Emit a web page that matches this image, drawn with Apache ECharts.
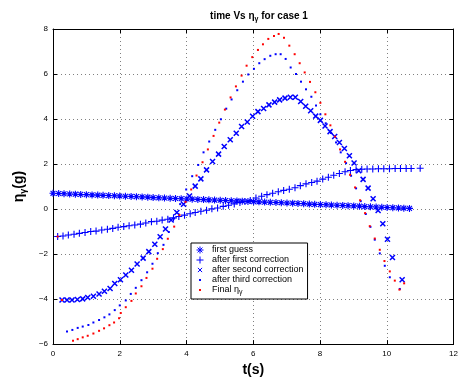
<!DOCTYPE html>
<html><head><meta charset="utf-8">
<script src="https://cdn.jsdelivr.net/npm/echarts@6/dist/echarts.min.js"></script>
<style>html,body{margin:0;padding:0;background:#fff}#c{width:461px;height:382px}</style>
</head><body><div id="c"></div>
<script>
const xTicks = [0, 2, 4, 6, 8, 10, 12];
const yTicks = [-6, -4, -2, 0, 2, 4, 6, 8];
const seriesNames = ['first guess', 'after first correction', 'after second correction', 'after third correction', 'Final ηγ'];

const firstGuess = [[0.00,0.70],[0.17,0.69],[0.33,0.68],[0.50,0.67],[0.67,0.66],[0.83,0.65],[1.00,0.64],[1.17,0.63],[1.34,0.62],[1.50,0.61],[1.67,0.60],[1.84,0.59],[2.00,0.58],[2.17,0.57],[2.34,0.56],[2.50,0.55],[2.67,0.54],[2.84,0.53],[3.00,0.51],[3.17,0.50],[3.34,0.49],[3.51,0.48],[3.67,0.47],[3.84,0.46],[4.01,0.45],[4.17,0.44],[4.34,0.43],[4.51,0.42],[4.67,0.41],[4.84,0.40],[5.01,0.39],[5.17,0.38],[5.34,0.37],[5.51,0.36],[5.67,0.35],[5.84,0.34],[6.01,0.33],[6.17,0.32],[6.34,0.31],[6.51,0.30],[6.68,0.29],[6.84,0.28],[7.01,0.27],[7.18,0.26],[7.34,0.25],[7.51,0.24],[7.68,0.22],[7.84,0.21],[8.01,0.20],[8.18,0.19],[8.34,0.18],[8.51,0.17],[8.68,0.16],[8.84,0.15],[9.01,0.14],[9.18,0.13],[9.34,0.11],[9.51,0.10],[9.68,0.09],[9.85,0.08],[10.01,0.07],[10.18,0.06],[10.35,0.05],[10.51,0.04],[10.68,0.03]];

const firstCorrection = [[0.14,-1.22],[0.30,-1.20],[0.46,-1.15],[0.63,-1.12],[0.79,-1.08],[0.96,-1.04],[1.13,-1.00],[1.29,-0.98],[1.46,-0.93],[1.63,-0.90],[1.79,-0.86],[1.95,-0.81],[2.12,-0.78],[2.28,-0.74],[2.45,-0.71],[2.62,-0.67],[2.78,-0.62],[2.95,-0.56],[3.11,-0.54],[3.27,-0.49],[3.44,-0.45],[3.61,-0.39],[3.77,-0.33],[3.94,-0.27],[4.11,-0.21],[4.26,-0.15],[4.43,-0.10],[4.60,-0.05],[4.76,0.01],[4.93,0.05],[5.10,0.12],[5.26,0.17],[5.43,0.23],[5.60,0.29],[5.75,0.34],[5.91,0.38],[6.08,0.49],[6.25,0.57],[6.41,0.64],[6.58,0.70],[6.75,0.77],[6.91,0.83],[7.08,0.88],[7.25,0.95],[7.41,1.04],[7.58,1.12],[7.75,1.18],[7.91,1.24],[8.08,1.33],[8.25,1.41],[8.41,1.50],[8.58,1.58],[8.75,1.66],[8.91,1.71],[9.08,1.75],[9.25,1.77],[9.41,1.78],[9.58,1.78],[9.75,1.79],[9.91,1.79],[10.08,1.79],[10.25,1.80],[10.41,1.80],[10.58,1.80],[10.73,1.80],[11.00,1.81]];

const secondCorrection = [[0.27,-4.04],[0.42,-4.04],[0.57,-4.04],[0.73,-4.02],[0.89,-3.99],[1.04,-3.93],[1.21,-3.87],[1.38,-3.77],[1.54,-3.65],[1.71,-3.53],[1.85,-3.31],[2.02,-3.14],[2.18,-2.93],[2.35,-2.72],[2.52,-2.44],[2.70,-2.18],[2.87,-1.89],[3.05,-1.56],[3.21,-1.23],[3.37,-0.89],[3.54,-0.49],[3.71,-0.15],[3.91,0.21],[4.09,0.58],[4.26,1.02],[4.43,1.34],[4.60,1.74],[4.78,2.11],[4.96,2.44],[5.13,2.78],[5.31,3.08],[5.49,3.37],[5.65,3.67],[5.82,3.87],[5.98,4.12],[6.14,4.33],[6.31,4.47],[6.47,4.63],[6.64,4.75],[6.79,4.85],[6.95,4.93],[7.11,4.97],[7.26,4.97],[7.42,4.78],[7.57,4.57],[7.72,4.37],[7.87,4.13],[8.01,3.94],[8.15,3.69],[8.30,3.44],[8.44,3.22],[8.58,2.96],[8.73,2.69],[8.88,2.37],[9.02,2.05],[9.16,1.70],[9.29,1.32],[9.44,0.93],[9.59,0.46],[9.74,-0.06],[9.88,-0.65],[10.02,-1.34],[10.17,-2.15],[10.46,-3.14]];

const thirdCorrection = [[0.42,-5.44],[0.58,-5.37],[0.74,-5.28],[0.89,-5.22],[1.06,-5.15],[1.21,-5.04],[1.38,-4.93],[1.54,-4.81],[1.69,-4.68],[1.85,-4.49],[2.00,-4.28],[2.18,-4.06],[2.33,-3.77],[2.48,-3.50],[2.65,-3.16],[2.82,-2.81],[2.98,-2.43],[3.14,-1.96],[3.31,-1.59],[3.47,-1.02],[3.63,-0.42],[3.81,0.22],[3.99,0.87],[4.17,1.46],[4.35,1.96],[4.51,2.52],[4.68,3.00],[4.86,3.52],[5.03,3.99],[5.19,4.46],[5.35,4.87],[5.52,5.28],[5.69,5.66],[5.85,5.98],[6.02,6.23],[6.18,6.48],[6.34,6.66],[6.51,6.81],[6.67,6.88],[6.82,6.88],[6.97,6.67],[7.12,6.29],[7.28,6.00],[7.43,5.66],[7.58,5.32],[7.74,4.99],[7.88,4.60],[8.01,4.21],[8.17,3.81],[8.33,3.38],[8.48,2.96],[8.62,2.52],[8.78,2.04],[8.93,1.48],[9.08,0.92],[9.22,0.35],[9.37,-0.22],[9.51,-0.79],[9.64,-1.36],[9.79,-1.97],[9.94,-2.52],[10.09,-3.03],[10.39,-3.55]];

const finalEta = [[0.14,-1.22],[0.27,-4.04],[0.60,-5.85],[0.74,-5.78],[0.89,-5.70],[1.04,-5.63],[1.21,-5.53],[1.38,-5.41],[1.53,-5.30],[1.69,-5.16],[1.83,-5.04],[1.98,-4.85],[2.03,-4.62],[2.18,-4.36],[2.35,-4.08],[2.48,-3.75],[2.65,-3.43],[2.80,-3.06],[2.98,-2.65],[3.12,-2.21],[3.29,-1.78],[3.44,-1.32],[3.63,-0.78],[3.79,-0.27],[3.97,0.32],[4.14,0.87],[4.30,1.49],[4.48,2.08],[4.64,2.65],[4.81,3.25],[4.98,3.84],[5.15,4.42],[5.32,4.96],[5.48,5.45],[5.65,5.93],[5.80,6.37],[5.97,6.75],[6.14,7.07],[6.29,7.32],[6.45,7.56],[6.62,7.69],[6.76,7.78],[6.92,7.61],[7.08,7.26],[7.24,6.88],[7.39,6.48],[7.54,6.07],[7.70,5.65],[7.86,5.19],[8.01,4.72],[8.16,4.21],[8.31,3.72],[8.45,3.22],[8.60,2.65],[8.75,2.10],[8.90,1.52],[9.05,0.96],[9.20,0.39],[9.35,-0.18],[9.49,-0.76],[9.64,-1.31],[9.79,-1.81],[9.93,-2.31],[10.09,-2.77],[10.24,-3.18],[10.38,-3.58],[10.52,-3.30]];

const FONT = 'Liberation Sans, Arial, Helvetica, sans-serif';
const BLUE = '#0000ff', RED = '#ff0000';
const STAR = 'path://M0 5L10 5M5 0L5 10M1.5 1.5L8.5 8.5M8.5 1.5L1.5 8.5';
const PLUS = 'path://M0 5L10 5M5 0L5 10';
const CROSS = 'path://M0 0L10 10M10 0L0 10';
const LEG_CROSS = 'path://M0 0M10 10M2 2L8 8M8 2L2 8';
const LEG_DOT = 'path://M0 0M10 10M3.6 3.6L6.4 3.6L6.4 6.4L3.6 6.4Z';

const xMin = xTicks[0], xMax = xTicks[xTicks.length-1], xInt = xTicks[1]-xTicks[0];
const yMin = yTicks[0], yMax = yTicks[yTicks.length-1], yInt = yTicks[1]-yTicks[0];
const fmt = v => String(v).replace('-', '\u2212');

function xAx(pos, main) {
  return {
    type: 'value', position: pos, min: xMin, max: xMax, interval: xInt,
    axisLine: { show: true, onZero: false, lineStyle: { color: '#000', width: 1 } },
    axisTick: { show: true, inside: true, length: 4, lineStyle: { color: '#000', width: 1 } },
    axisLabel: { show: main, color: '#000', fontSize: 8, fontFamily: FONT, margin: 6, formatter: fmt },
    splitLine: { show: main, lineStyle: { color: '#808080', width: 1, type: [1, 3] } },
    name: main ? 't(s)' : '', nameLocation: 'middle', nameGap: 17,
    nameTextStyle: { fontSize: 14, fontWeight: 'bold', color: '#000', fontFamily: FONT }
  };
}
function yAx(pos, main) {
  return {
    type: 'value', position: pos, min: yMin, max: yMax, interval: yInt,
    axisLine: { show: true, onZero: false, lineStyle: { color: '#000', width: 1 } },
    axisTick: { show: true, inside: true, length: 4, lineStyle: { color: '#000', width: 1 } },
    axisLabel: { show: main, color: '#000', fontSize: 8, fontFamily: FONT, margin: 5, formatter: fmt },
    splitLine: { show: main, lineStyle: { color: '#808080', width: 1, type: [1, 3] } },
    name: main ? '{n|η}{s|γ}{n|(g)}' : '', nameLocation: 'middle', nameGap: 15, nameRotate: 90,
    nameTextStyle: { color: '#000', fontFamily: FONT,
      rich: { n: { fontSize: 14, fontWeight: 'bold', color: '#000', fontFamily: FONT },
              s: { fontSize: 9, fontWeight: 'bold', color: '#000', fontFamily: FONT, padding: [8, 0, 0, 0] } } }
  };
}

const chart = echarts.init(document.getElementById('c'), null, { renderer: 'canvas' });
chart.setOption({
  animation: false,
  backgroundColor: '#fff',
  title: {
    text: '{b|time Vs η}{s|γ}{b| for case 1}',
    left: 254, top: 5, textAlign: 'center',
    textStyle: { rich: {
      b: { fontSize: 10, fontWeight: 'bold', color: '#000', fontFamily: FONT },
      s: { fontSize: 7, fontWeight: 'bold', color: '#000', fontFamily: FONT, padding: [6, 0, 0, 0] } } }
  },
  grid: { left: 53, right: 6, top: 29, bottom: 35, containLabel: false },
  xAxis: [xAx('bottom', true), xAx('top', false)],
  yAxis: [yAx('left', true), yAx('right', false)],
  legend: {
    orient: 'vertical', left: 191, top: 243,
    padding: [2, 4, 3, 5], itemGap: 0, itemWidth: 14, itemHeight: 7,
    backgroundColor: '#fff', borderColor: '#000', borderWidth: 1,
    itemStyle: { borderWidth: 1 },
    textStyle: { fontSize: 9, color: '#000', fontFamily: FONT, lineHeight: 10,
      rich: { t: { fontSize: 9, color: '#000', fontFamily: FONT, lineHeight: 10 },
              s: { fontSize: 7, color: '#000', fontFamily: FONT, padding: [5, 0, 0, 0] } } },
    formatter: name => name === seriesNames[4] ? '{t|Final η}{s|γ}' : '{t|' + name + '}',
    data: [
      { name: seriesNames[0], icon: STAR },
      { name: seriesNames[1], icon: PLUS },
      { name: seriesNames[2], icon: LEG_CROSS },
      { name: seriesNames[3], icon: LEG_DOT, itemStyle: { borderWidth: 0 } },
      { name: seriesNames[4], icon: LEG_DOT, itemStyle: { borderWidth: 0 } }
    ]
  },
  series: [
    { name: seriesNames[0], type: 'scatter', data: firstGuess, symbol: STAR, symbolSize: 7,
      itemStyle: { color: BLUE, borderColor: BLUE, borderWidth: 1.1, opacity: 1 } },
    { name: seriesNames[1], type: 'scatter', data: firstCorrection, symbol: PLUS, symbolSize: 7,
      itemStyle: { color: BLUE, borderColor: BLUE, borderWidth: 1.1, opacity: 1 } },
    { name: seriesNames[2], type: 'scatter', data: secondCorrection, symbol: CROSS, symbolSize: 5,
      itemStyle: { color: BLUE, borderColor: BLUE, borderWidth: 1.5, opacity: 1 } },
    { name: seriesNames[3], type: 'scatter', data: thirdCorrection, symbol: 'rect', symbolSize: 2,
      itemStyle: { color: BLUE, borderWidth: 0, opacity: 1 } },
    { name: seriesNames[4], type: 'scatter', data: finalEta, symbol: 'rect', symbolSize: 2,
      itemStyle: { color: RED, borderWidth: 0, opacity: 1 } }
  ]
});
</script></body></html>
